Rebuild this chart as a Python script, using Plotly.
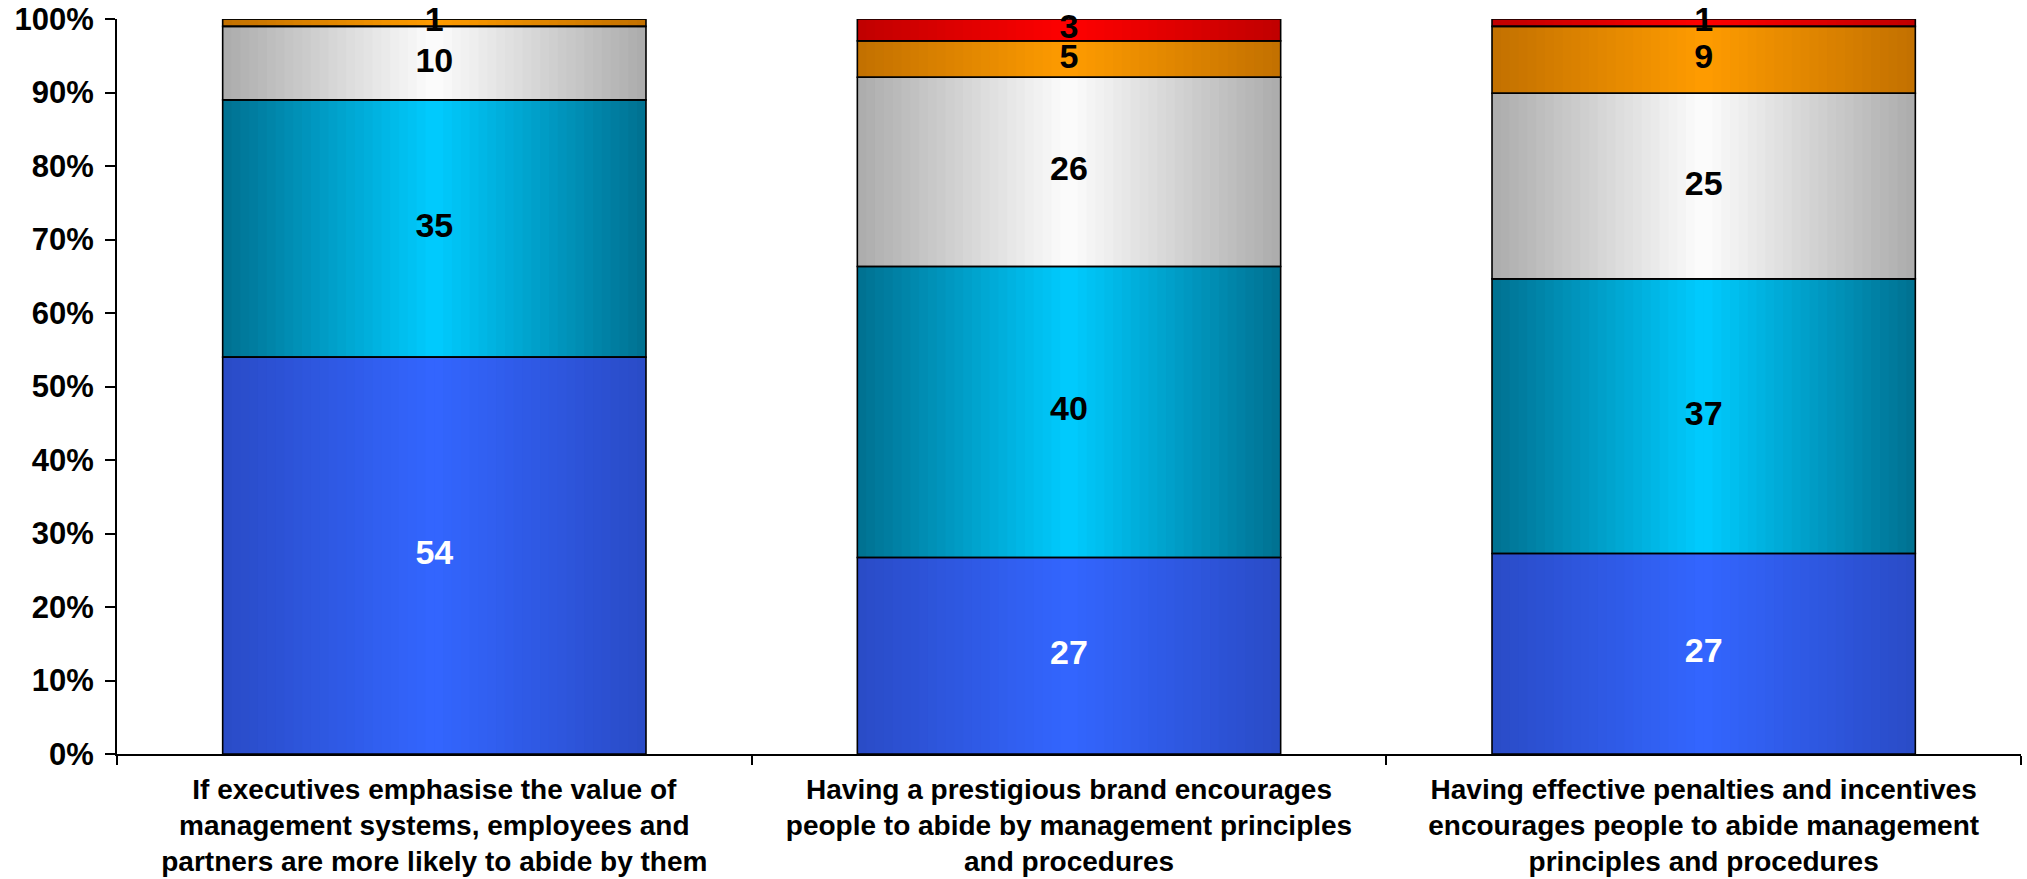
import numpy as np
import plotly.graph_objects as go

# ---------------- data ----------------
categories = [
    "If executives emphasise the value of<br>management systems, employees and<br>partners are more likely to abide by them",
    "Having a prestigious brand encourages<br>people to abide by management principles<br>and procedures",
    "Having effective penalties and incentives<br>encourages people to abide management<br>principles and procedures",
]
series_names = ["Strongly agree", "Agree", "Neutral", "Disagree", "Strongly disagree"]
strongly_agree = [54, 27, 27]
agree = [35, 40, 37]
neutral = [10, 26, 25]
disagree = [1, 5, 9]
strongly_disagree = [0, 3, 1]
y_tick_values = [0, 10, 20, 30, 40, 50, 60, 70, 80, 90, 100]
y_tick_labels = ["0%", "10%", "20%", "30%", "40%", "50%", "60%", "70%", "80%", "90%", "100%"]

# ---------------- styles ----------------
edge_colors = ["#2A4BC6", "#007090", "#ABABAB", "#C27000", "#C00000"]
center_colors = ["#3366FF", "#00CCFF", "#FDFDFD", "#FF9C00", "#FF0000"]
label_colors = ["white", "black", "black", "black", "black"]
FONT = "Arial, 'Liberation Sans', sans-serif"
BAR_W = 0.667
N_STRIPS = 48

series = [strongly_agree, agree, neutral, disagree, strongly_disagree]
vals = np.array(series, dtype=float)
totals = vals.sum(axis=0)
pct = vals / totals * 100.0
bases = np.vstack([np.zeros(len(categories)), np.cumsum(pct, axis=0)[:-1]])


def hex_to_rgb(h):
    h = h.lstrip("#")
    return np.array([int(h[i:i + 2], 16) for i in (0, 2, 4)], dtype=float)


def mix(c1, c2, t):
    a, b = hex_to_rgb(c1), hex_to_rgb(c2)
    c = a + (b - a) * t
    return "rgb(%d,%d,%d)" % tuple(np.round(c).astype(int))


fig = go.Figure()

# gradient fills: each segment drawn as narrow vertical strips of bars
strip_w = BAR_W / N_STRIPS
for s in range(len(series)):
    for k in range(N_STRIPS):
        t = 1 - abs(2 * (k + 0.5) / N_STRIPS - 1)
        col = mix(edge_colors[s], center_colors[s], t)
        extra = 0.003 if k < N_STRIPS - 1 else 0.0
        fig.add_trace(go.Bar(
            x=categories, y=pct[s], base=bases[s],
            width=strip_w + extra, offset=-BAR_W / 2 + k * strip_w,
            marker=dict(color=col, line=dict(width=0)),
            hoverinfo="skip", showlegend=False,
        ))

# outlines
for s in range(len(series)):
    fig.add_trace(go.Bar(
        x=categories, y=pct[s], base=bases[s], name=series_names[s],
        width=BAR_W, offset=-BAR_W / 2,
        marker=dict(color="rgba(0,0,0,0)", line=dict(color="black", width=1.6)),
        customdata=series[s],
        hovertemplate="%{customdata}<extra>" + series_names[s] + "</extra>",
        showlegend=False,
    ))

# value labels at the middle of each segment
for s in range(len(series)):
    texts = [str(v) if v else "" for v in series[s]]
    fig.add_trace(go.Scatter(
        x=categories, y=bases[s] + pct[s] / 2, mode="text", text=texts,
        textposition="middle center",
        textfont=dict(family=FONT, size=34, color=label_colors[s], weight="bold"),
        hoverinfo="skip", cliponaxis=False, showlegend=False,
    ))

fig.update_layout(
    barmode="overlay",
    width=2027, height=879,
    margin=dict(l=117, r=6, t=19, b=125),
    paper_bgcolor="white", plot_bgcolor="rgba(0,0,0,0)",
    font=dict(family=FONT, color="black"),
    showlegend=False,
    xaxis=dict(
        showline=True, linecolor="black", linewidth=2,
        ticks="outside", ticklen=9, tickwidth=1.5, tickcolor="black",
        tickson="boundaries", showgrid=False, zeroline=False,
        tickfont=dict(size=28, weight="bold", color="black"),
        ticklabelstandoff=9, automargin=False,
        range=[-0.5, 2.5],
    ),
    yaxis=dict(
        range=[0, 100], tickvals=y_tick_values, ticktext=y_tick_labels,
        showline=True, linecolor="black", linewidth=2,
        ticks="outside", ticklen=10, tickwidth=2, tickcolor="black",
        showgrid=False, zeroline=False,
        tickfont=dict(size=31, weight="bold", color="black"),
        ticklabelstandoff=5, automargin=False,
    ),
)

fig.write_html("out.html", config={"displayModeBar": False},
               post_script="document.body.style.margin='0';")
